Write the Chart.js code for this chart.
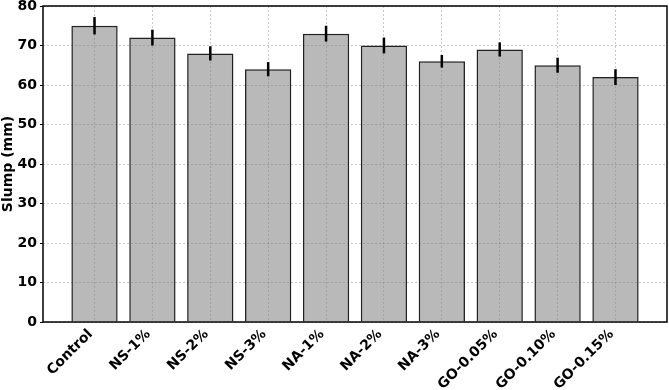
<!DOCTYPE html>
<html>
<head>
<meta charset="utf-8">
<script src="https://cdn.jsdelivr.net/npm/chart.js@4/dist/chart.umd.min.js"></script>
<style>
  html, body { margin: 0; padding: 0; background: #fff; }
  #wrap { width: 669px; height: 390px; position: relative; }
</style>
</head>
<body>
<div id="wrap"><canvas id="c"></canvas></div>
<script>
// chart values
const categories = ['Control', 'NS-1%', 'NS-2%', 'NS-3%', 'NA-1%', 'NA-2%', 'NA-3%', 'GO-0.05%', 'GO-0.10%', 'GO-0.15%'];
const slump = [75, 72, 68, 64, 73, 70, 66, 69, 65, 62];
const slumpErr = [2.2, 2, 1.8, 1.8, 2, 2, 1.6, 1.8, 1.9, 2];
const yTicks = [0, 10, 20, 30, 40, 50, 60, 70, 80];

const font = { family: 'DejaVu Sans', weight: 'bold', size: 14 };

// error bars + black frame around the plot area
const errorBars = {
    id: 'errorBars',
    afterDatasetsDraw(chart) {
        const ctx = chart.ctx;
        const x = chart.scales.x, y = chart.scales.y;
        ctx.save();
        ctx.strokeStyle = '#000';
        ctx.lineWidth = 2.5;
        slump.forEach((v, i) => {
            const px = x.getPixelForValue(i);
            ctx.beginPath();
            ctx.moveTo(px, y.getPixelForValue(v - slumpErr[i]));
            ctx.lineTo(px, y.getPixelForValue(v + slumpErr[i]));
            ctx.stroke();
        });
        const a = chart.chartArea;
        ctx.lineWidth = 1.5;
        ctx.strokeRect(a.left, a.top, a.right - a.left, a.bottom - a.top);
        ctx.restore();
    }
};

new Chart(document.getElementById('c'), {
    type: 'bar',
    data: {
        datasets: [{
            data: slump.map((v, i) => ({ x: i, y: v })),
            backgroundColor: 'rgba(128,128,128,0.55)',
            borderColor: '#222',
            borderWidth: 1.5,
            barPercentage: 0.8,
            categoryPercentage: 1
        }]
    },
    options: {
        responsive: true,
        maintainAspectRatio: false,
        animation: false,
        layout: { padding: { top: 6, right: 2, left: 0, bottom: 0 } },
        plugins: { legend: { display: false }, tooltip: { enabled: false } },
        scales: {
            x: {
                type: 'linear',
                offset: false,
                min: -0.89, max: 9.89,
                afterBuildTicks: axis => { axis.ticks = categories.map((c, i) => ({ value: i })); },
                afterFit: axis => { axis.height = 68; axis.paddingLeft = 0; axis.paddingRight = 0; },
                grid: {
                    offset: false,
                    color: 'rgba(0,0,0,0.22)',
                    drawTicks: false
                },
                border: { display: false, dash: [2, 2] },
                ticks: {
                    font: font, color: '#000',
                    maxRotation: 45, minRotation: 45,
                    autoSkip: false, padding: 4, labelOffset: -4,
                    callback: v => categories[v]
                }
            },
            y: {
                min: 0, max: 80,
                afterBuildTicks: axis => { axis.ticks = yTicks.map(v => ({ value: v })); },
                afterFit: axis => { axis.width = 43; axis.paddingTop = 0; axis.paddingBottom = 0; },
                grid: {
                    color: 'rgba(0,0,0,0.22)',
                    tickColor: '#000',
                    tickLength: 3
                },
                border: { display: false, dash: [2, 2] },
                ticks: { font: font, color: '#000', padding: 3 },
                title: { display: true, text: 'Slump (mm)', font: font, color: '#000', padding: { top: 0, bottom: 0 } }
            }
        }
    },
    plugins: [errorBars]
});
</script>
</body>
</html>
